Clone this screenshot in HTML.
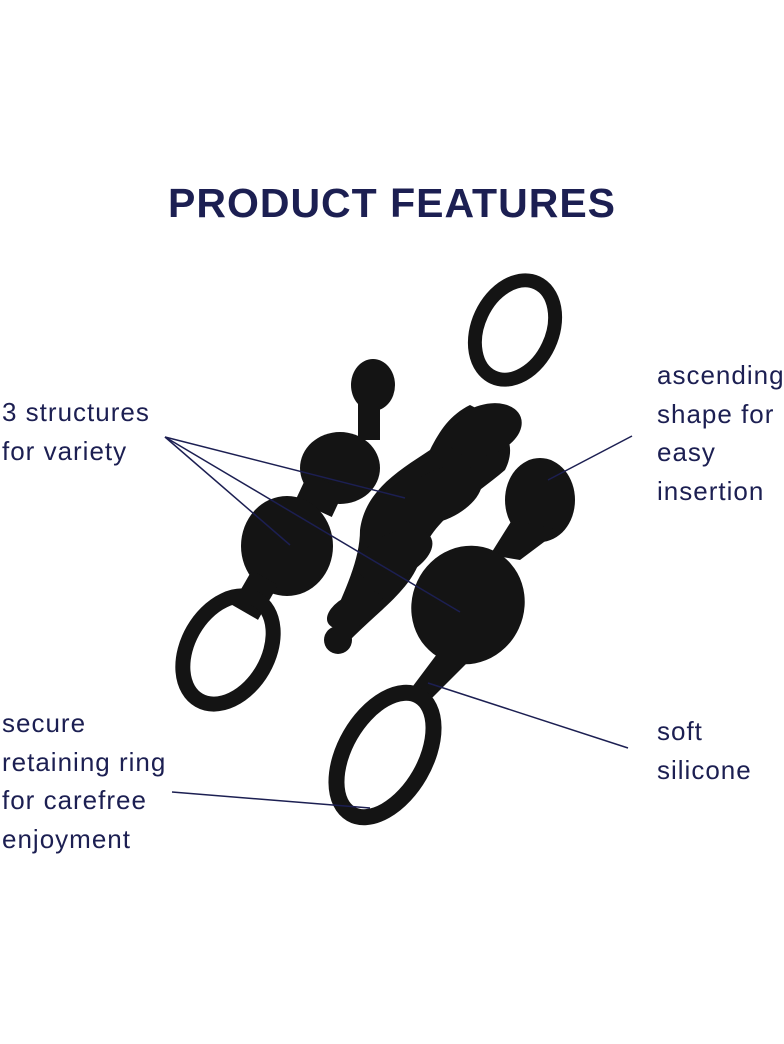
<!DOCTYPE html>
<html><head><meta charset="utf-8"><style>
html,body{margin:0;padding:0;background:#fff;}
body{width:784px;height:1044px;position:relative;overflow:hidden;font-family:"Liberation Sans",sans-serif;color:#1c1f52;}
h1{position:absolute;top:180px;left:0;width:784px;text-align:center;margin:0;font-size:41px;font-weight:900;letter-spacing:1px;}
.t{position:absolute;font-size:26px;line-height:38.5px;letter-spacing:1px;}
svg{position:absolute;left:0;top:0;}
</style></head><body>
<h1>PRODUCT FEATURES</h1>
<svg width="784" height="1044" viewBox="0 0 784 1044">
<g fill="#141414">
<ellipse cx="373" cy="385" rx="22" ry="26"/>
<rect x="358" y="400" width="22" height="40"/>
<ellipse cx="340" cy="468" rx="40" ry="36"/>
<rect x="300" y="480" width="40" height="30" transform="rotate(25 320 495)"/>
<ellipse cx="287" cy="546" rx="46" ry="50"/>
<rect x="240" y="575" width="30" height="40" transform="rotate(30 255 595)"/>
<path d="M470 405 C500 420 520 440 505 470 C470 500 430 520 420 560 C410 590 380 610 350 640 L330 625 C345 590 360 560 360 530 C365 490 400 470 430 450 C440 430 450 415 470 405Z"/>
<ellipse cx="485" cy="430" rx="38" ry="25" transform="rotate(-20 485 430)"/>
<ellipse cx="440" cy="495" rx="45" ry="25" transform="rotate(-25 440 495)"/>
<ellipse cx="395" cy="555" rx="40" ry="22" transform="rotate(-25 395 555)"/>
<ellipse cx="355" cy="610" rx="30" ry="16" transform="rotate(-25 355 610)"/>
<ellipse cx="338" cy="640" rx="14" ry="14"/>
<ellipse cx="540" cy="500" rx="35" ry="42"/>
<path d="M512 520 L560 530 L520 560 L490 555Z"/>
<ellipse cx="468" cy="605" rx="56" ry="60" transform="rotate(25 468 605)"/>
<path d="M440 650 L470 660 L430 700 L410 690Z"/>
</g>
<g fill="none" stroke="#141414">
<ellipse cx="228" cy="650" rx="40" ry="58" stroke-width="15" transform="rotate(30 228 650)"/>
<ellipse cx="515" cy="330" rx="37" ry="52" stroke-width="14" transform="rotate(25 515 330)"/>
<ellipse cx="385" cy="755" rx="40" ry="68" stroke-width="16" transform="rotate(30 385 755)"/>
</g>
<g stroke="#1c1f52" stroke-width="1.5" fill="none">
<line x1="165" y1="437" x2="405" y2="498"/>
<line x1="165" y1="437" x2="290" y2="545"/>
<line x1="165" y1="437" x2="460" y2="612"/>
<line x1="632" y1="436" x2="548" y2="480"/>
<line x1="628" y1="748" x2="428" y2="683"/>
<line x1="172" y1="792" x2="370" y2="808"/>
</g>
</svg>
<div class="t" style="left:2px;top:393px">3 structures<br>for variety</div>
<div class="t" style="left:657px;top:356px">ascending<br>shape for<br>easy<br>insertion</div>
<div class="t" style="left:657px;top:712px">soft<br>silicone</div>
<div class="t" style="left:2px;top:704px">secure<br>retaining ring<br>for carefree<br>enjoyment</div>
</body></html>
